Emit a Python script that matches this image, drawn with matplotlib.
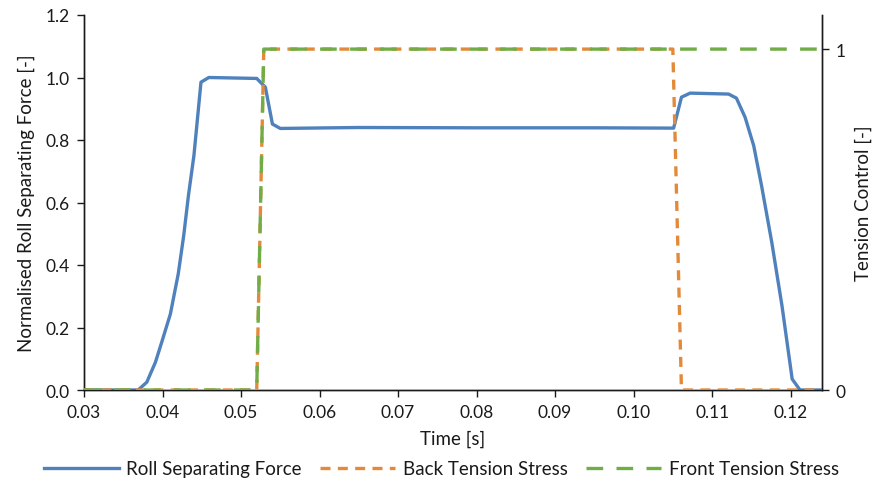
import matplotlib

matplotlib.use('Agg')
import matplotlib.pyplot as plt
from matplotlib.lines import Line2D

plt.rcParams['font.family'] = ['Lato', 'DejaVu Sans']

# roll separating force, normalised
t_force = [0.030, 0.0369, 0.0380, 0.0391, 0.0399, 0.0410, 0.0420, 0.0427, 0.0433,
           0.0440, 0.0449, 0.0459, 0.0520, 0.0531, 0.0540, 0.0550, 0.0650, 0.0800,
           0.0950, 0.1051, 0.1061, 0.1072, 0.1121, 0.1131, 0.1142, 0.1153, 0.1163,
           0.1176, 0.1189, 0.1202, 0.1212, 0.1240]
force = [0.0, 0.0, 0.025, 0.089, 0.153, 0.243, 0.371, 0.494, 0.622,
         0.750, 0.985, 1.000, 0.997, 0.969, 0.851, 0.837, 0.840, 0.839,
         0.839, 0.838, 0.937, 0.950, 0.947, 0.934, 0.873, 0.782, 0.654,
         0.473, 0.270, 0.035, 0.0, 0.0]

# tension control signals
t_back = [0.030, 0.0520, 0.0529, 0.1050, 0.1061, 0.1240]
back = [0, 0, 1, 1, 0, 0]
t_front = [0.030, 0.0520, 0.0529, 0.1240]
front = [0, 0, 1, 1]

x_ticks = [0.03, 0.04, 0.05, 0.06, 0.07, 0.08, 0.09, 0.10, 0.11, 0.12]
y_ticks = [0.0, 0.2, 0.4, 0.6, 0.8, 1.0, 1.2]

blue = '#4F81BD'
orange = '#E38A3A'
green = '#70AD47'
axis_col = '#1a1a1a'
text_col = '#1a1a1a'

fig = plt.figure(figsize=(8.74, 4.85), dpi=100)
ax = fig.add_axes([84 / 874, 1 - 391 / 485, (822 - 84) / 874, (391 - 16) / 485])
ax2 = ax.twinx()

ax.plot(t_force, force, color=blue, lw=2.4, solid_joinstyle='round', zorder=3)
ax2.plot(t_back, back, color=orange, lw=2.4, dashes=(3, 2.2), zorder=3)
ax2.plot(t_front, front, color=green, lw=2.4, dashes=(5, 4), zorder=4)

ax.set_xlim(0.03, 0.124)
ax.set_ylim(0, 1.2)
ax2.set_ylim(0, 1.1)
ax.set_xticks(x_ticks)
ax.set_xticklabels(['%.2f' % v for v in x_ticks])
ax.set_yticks(y_ticks)
ax.set_yticklabels(['%.1f' % v for v in y_ticks])
ax2.set_yticks([0, 1])
ax2.set_yticklabels(['0', '1'])

for a in (ax, ax2):
    a.spines['top'].set_visible(False)
    for s in ('left', 'right', 'bottom'):
        a.spines[s].set_color(axis_col)
        a.spines[s].set_linewidth(1.0)
    a.tick_params(colors=axis_col, labelcolor=text_col, labelsize=12.5,
                  length=5, width=1.0, direction='out', pad=5)

ax.set_xlabel('Time [s]', fontsize=13.5, color=text_col, labelpad=7)
ax.set_ylabel('Normalised Roll Separating Force [-]', fontsize=13.5, color=text_col, labelpad=8)
ax2.set_ylabel('Tension Control [-]', fontsize=13.5, color=text_col, labelpad=6)

handles = [Line2D([], [], color=blue, lw=2.4),
           Line2D([], [], color=orange, lw=2.4, dashes=(3, 2.2)),
           Line2D([], [], color=green, lw=2.4, dashes=(5, 4))]
labels = ['Roll Separating Force', 'Back Tension Stress', 'Front Tension Stress']
fig.legend(handles, labels, loc='center', bbox_to_anchor=(0.505, 1 - 470 / 485), ncol=3,
           frameon=False, fontsize=13.5, handlelength=4.0, handletextpad=0.4,
           columnspacing=1.0, labelcolor=text_col)

plt.savefig('out.png', dpi=100)
